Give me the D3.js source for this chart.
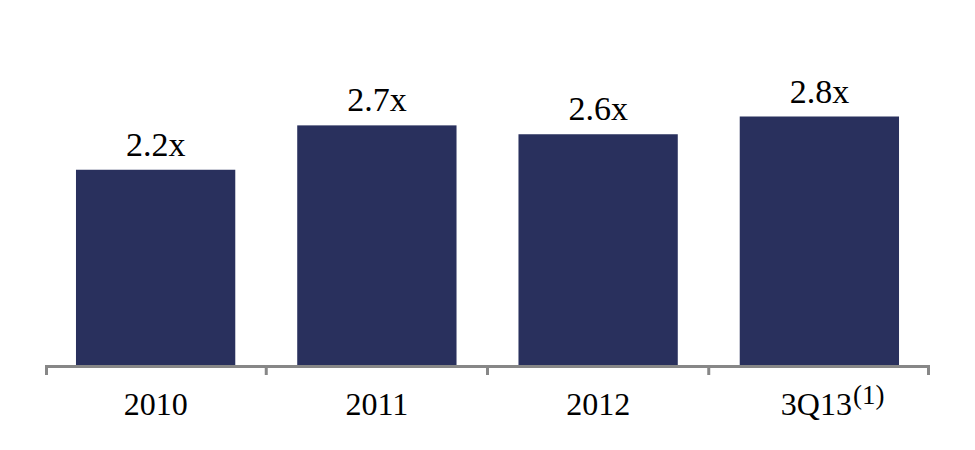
<!DOCTYPE html>
<html><head><meta charset="utf-8">
<script src="https://cdn.jsdelivr.net/npm/d3@7"></script>
<style>body{margin:0;background:#fff}svg{display:block}</style>
</head><body>
<svg id="c" width="975" height="450"></svg>
<script>
const categories = ["2010", "2011", "2012", "3Q13"];
const values = [2.2, 2.7, 2.6, 2.8];
const valueLabels = ["2.2x", "2.7x", "2.6x", "2.8x"];
const footnotes = ["", "", "", "(1)"];

const svg = d3.select("#c");
const font = "'Liberation Serif','Times New Roman',serif";
const x = d3.scaleBand().domain(categories).range([45, 930]).paddingInner(0.28).paddingOuter(0.14);
const y = d3.scaleLinear().domain([0, 4]).range([365, 10]);

svg.selectAll("rect.bar").data(categories).join("rect")
  .attr("class", "bar")
  .attr("x", d => x(d))
  .attr("width", x.bandwidth())
  .attr("y", (d, i) => y(values[i]))
  .attr("height", (d, i) => y(0) - y(values[i]))
  .attr("fill", "#29305d");

svg.selectAll("text.val").data(categories).join("text")
  .attr("class", "val")
  .attr("x", d => x(d) + x.bandwidth() / 2)
  .attr("y", (d, i) => y(values[i]) - 14)
  .attr("text-anchor", "middle")
  .attr("font-family", font)
  .attr("font-size", 34)
  .attr("fill", "#000")
  .text((d, i) => valueLabels[i]);

// axis line and ticks at band boundaries
const bounds = d3.range(categories.length + 1).map(i => 45 + i * (885 / categories.length));
const g = svg.append("g");
g.append("line").attr("x1", 45).attr("x2", 930).attr("y1", 366.5).attr("y2", 366.5)
  .attr("stroke", "#878787").attr("stroke-width", 3);
g.selectAll("line.tick").data(bounds).join("line")
  .attr("class", "tick")
  .attr("x1", d => Math.min(Math.max(d, 46.5), 928.5)).attr("x2", d => Math.min(Math.max(d, 46.5), 928.5))
  .attr("y1", 365).attr("y2", 375)
  .attr("stroke", "#878787").attr("stroke-width", 3);

svg.selectAll("text.cat").data(categories).join("text")
  .attr("class", "cat")
  .attr("x", (d, i) => x(d) + x.bandwidth() / 2 - (footnotes[i] ? 3 : 0))
  .attr("y", 415)
  .attr("text-anchor", "middle")
  .attr("font-family", font)
  .attr("font-size", 32)
  .attr("fill", "#000")
  .text(d => d)
  .each(function(d, i) {
    if (!footnotes[i]) return;
    const len = this.getComputedTextLength();
    const cx = x(d) + x.bandwidth() / 2 - 3;
    svg.append("text")
      .attr("x", cx + len / 2 + 1)
      .attr("y", 404)
      .attr("font-family", font)
      .attr("font-size", 27)
      .attr("fill", "#000")
      .text(footnotes[i]);
  });
</script>
</body></html>
